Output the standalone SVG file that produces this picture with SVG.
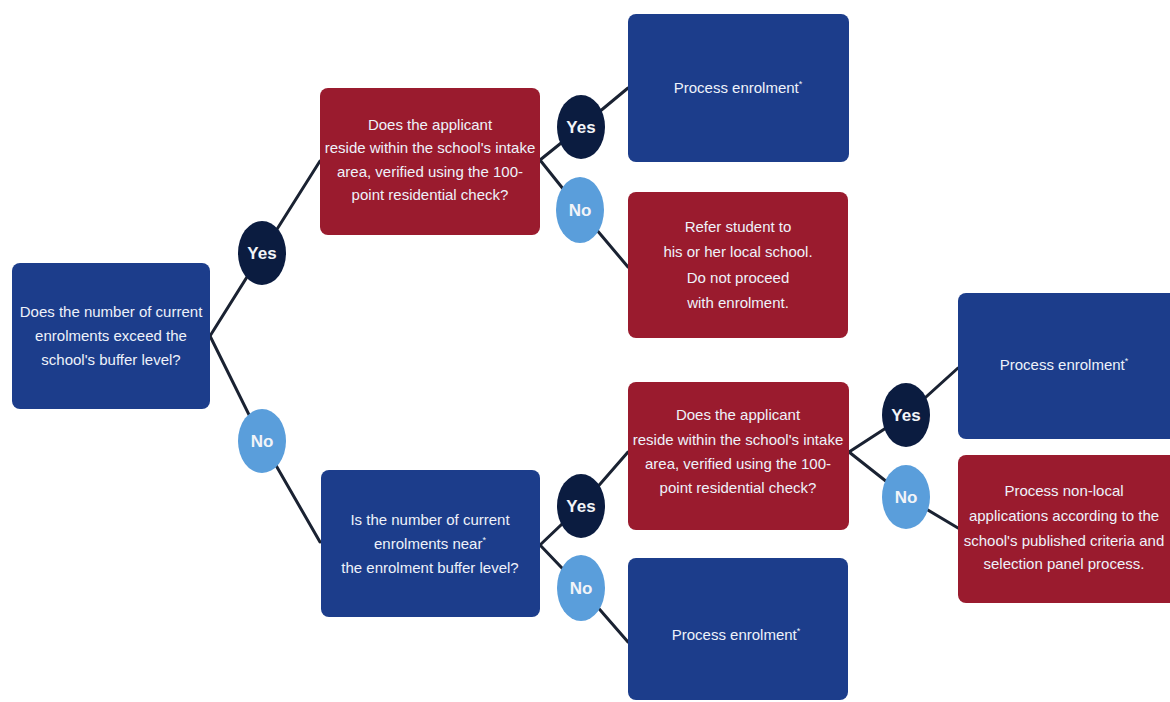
<svg xmlns="http://www.w3.org/2000/svg" width="1170" height="702" viewBox="0 0 1170 702">
<style>
.bg{fill:#ffffff}
.blue{fill:#1c3d8b}
.red{fill:#9a1b2e}
.yes{fill:#0b1c40}
.no{fill:#5a9edb}
.t{font-family:"Liberation Sans",Arial,sans-serif;font-size:15px;fill:#eef2fa;text-anchor:middle}
.c{font-family:"Liberation Sans",Arial,sans-serif;font-size:17px;font-weight:bold;fill:#f2f4f8;text-anchor:middle}
.ln{stroke:#1a2232;stroke-width:3;fill:none;stroke-linecap:round}
</style>
<rect class="bg" x="0" y="0" width="1170" height="702"/>
<g id="connectors">
  <polyline class="ln" points="210,336 262,253 320,161"/>
  <polyline class="ln" points="210,336 262,441 320,542"/>
  <polyline class="ln" points="540,160 581,127 628,88"/>
  <polyline class="ln" points="540,160 580,210 628,267"/>
  <polyline class="ln" points="540,545 581,506 628,452"/>
  <polyline class="ln" points="540,545 581,588 628,642"/>
  <polyline class="ln" points="849,452 906,415 958,368"/>
  <polyline class="ln" points="849,452 906,497 958,528"/>
</g>
<g id="nodeA">
  <rect class="blue" x="12" y="263" width="198" height="146" rx="8"/>
  <text class="t" x="111" y="317">Does the number of current</text>
  <text class="t" x="111" y="341">enrolments exceed the</text>
  <text class="t" x="111" y="365">school's buffer level?</text>
</g>
<g id="nodeB">
  <rect class="red" x="320" y="88" width="220" height="147" rx="8"/>
  <text class="t" x="430" y="130">Does the applicant</text>
  <text class="t" x="430" y="153">reside within the school's intake</text>
  <text class="t" x="430" y="177">area, verified using the 100-</text>
  <text class="t" x="430" y="200">point residential check?</text>
</g>
<g id="nodeC">
  <rect class="blue" x="628" y="14" width="221" height="148" rx="8"/>
  <text class="t" x="738" y="93">Process enrolment<tspan font-size="9" dy="-6">*</tspan></text>
</g>
<g id="nodeD">
  <rect class="red" x="628" y="192" width="220" height="146" rx="8"/>
  <text class="t" x="738" y="232">Refer student to</text>
  <text class="t" x="738" y="257">his or her local school.</text>
  <text class="t" x="738" y="283">Do not proceed</text>
  <text class="t" x="738" y="308">with enrolment.</text>
</g>
<g id="nodeE">
  <rect class="blue" x="321" y="470" width="219" height="147" rx="8"/>
  <text class="t" x="430" y="525">Is the number of current</text>
  <text class="t" x="430" y="549">enrolments near<tspan font-size="9" dy="-6">*</tspan></text>
  <text class="t" x="430" y="573">the enrolment buffer level?</text>
</g>
<g id="nodeF">
  <rect class="red" x="628" y="382" width="221" height="148" rx="8"/>
  <text class="t" x="738" y="420">Does the applicant</text>
  <text class="t" x="738" y="445">reside within the school's intake</text>
  <text class="t" x="738" y="469">area, verified using the 100-</text>
  <text class="t" x="738" y="493">point residential check?</text>
</g>
<g id="nodeG">
  <rect class="blue" x="958" y="293" width="222" height="146" rx="8"/>
  <text class="t" x="1064" y="370">Process enrolment<tspan font-size="9" dy="-6">*</tspan></text>
</g>
<g id="nodeH">
  <rect class="red" x="958" y="455" width="222" height="148" rx="8"/>
  <text class="t" x="1064" y="496">Process non-local</text>
  <text class="t" x="1064" y="521">applications according to the</text>
  <text class="t" x="1064" y="546">school's published criteria and</text>
  <text class="t" x="1064" y="569">selection panel process.</text>
</g>
<g id="nodeI">
  <rect class="blue" x="628" y="558" width="220" height="142" rx="8"/>
  <text class="t" x="736" y="640">Process enrolment<tspan font-size="9" dy="-6">*</tspan></text>
</g>
<g id="yes1"><ellipse class="yes" cx="262" cy="253" rx="24" ry="32"/><text class="c" x="262" y="259">Yes</text></g>
<g id="no1"><ellipse class="no" cx="262" cy="441" rx="24" ry="32"/><text class="c" x="262" y="447">No</text></g>
<g id="yes2"><ellipse class="yes" cx="581" cy="127" rx="24" ry="32"/><text class="c" x="581" y="133">Yes</text></g>
<g id="no2"><ellipse class="no" cx="580" cy="210" rx="24" ry="33"/><text class="c" x="580" y="216">No</text></g>
<g id="yes3"><ellipse class="yes" cx="581" cy="506" rx="24" ry="32"/><text class="c" x="581" y="512">Yes</text></g>
<g id="no3"><ellipse class="no" cx="581" cy="588" rx="24" ry="33"/><text class="c" x="581" y="594">No</text></g>
<g id="yes4"><ellipse class="yes" cx="906" cy="415" rx="24" ry="32"/><text class="c" x="906" y="421">Yes</text></g>
<g id="no4"><ellipse class="no" cx="906" cy="497" rx="24" ry="32"/><text class="c" x="906" y="503">No</text></g>
</svg>
